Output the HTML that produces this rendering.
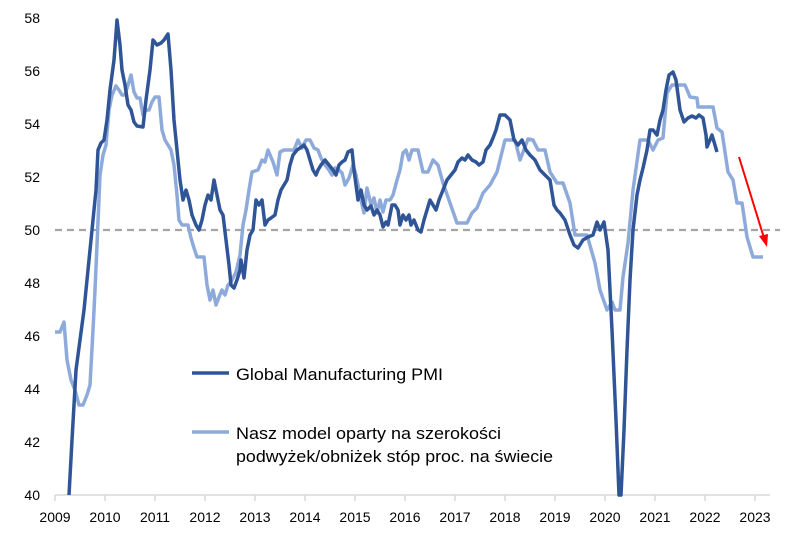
<!DOCTYPE html>
<html><head><meta charset="utf-8"><style>
body{margin:0;background:#fff;}
svg text{font-family:"Liberation Sans",sans-serif;fill:#000;}
</style></head><body>
<svg width="800" height="548" viewBox="0 0 800 548" xmlns="http://www.w3.org/2000/svg">
<rect width="800" height="548" fill="#fff"/>
<g font-size="14" text-anchor="end">
<text x="40" y="23">58</text><text x="40" y="76">56</text><text x="40" y="129">54</text>
<text x="40" y="182">52</text><text x="40" y="235">50</text><text x="40" y="288">48</text>
<text x="40" y="341">46</text><text x="40" y="394">44</text><text x="40" y="447">42</text>
<text x="40" y="500">40</text>
</g>
<line x1="55" y1="495" x2="770" y2="495" stroke="#d9d9d9" stroke-width="1.5"/>
<g stroke="#d9d9d9" stroke-width="1.5">
<line x1="55" y1="495" x2="55" y2="501"/><line x1="105" y1="495" x2="105" y2="501"/><line x1="155" y1="495" x2="155" y2="501"/><line x1="205" y1="495" x2="205" y2="501"/><line x1="255" y1="495" x2="255" y2="501"/><line x1="305" y1="495" x2="305" y2="501"/><line x1="355" y1="495" x2="355" y2="501"/><line x1="405" y1="495" x2="405" y2="501"/><line x1="455" y1="495" x2="455" y2="501"/><line x1="505" y1="495" x2="505" y2="501"/><line x1="555" y1="495" x2="555" y2="501"/><line x1="605" y1="495" x2="605" y2="501"/><line x1="655" y1="495" x2="655" y2="501"/><line x1="705" y1="495" x2="705" y2="501"/><line x1="755" y1="495" x2="755" y2="501"/>
</g>
<g font-size="14" text-anchor="middle">
<text x="55" y="522">2009</text><text x="105" y="522">2010</text><text x="155" y="522">2011</text><text x="205" y="522">2012</text><text x="255" y="522">2013</text><text x="305" y="522">2014</text><text x="355" y="522">2015</text><text x="405" y="522">2016</text><text x="455" y="522">2017</text><text x="505" y="522">2018</text><text x="555" y="522">2019</text><text x="605" y="522">2020</text><text x="655" y="522">2021</text><text x="705" y="522">2022</text><text x="755" y="522">2023</text>
</g>
<line x1="55" y1="230" x2="780" y2="230" stroke="#a5a5a5" stroke-width="2.2" stroke-dasharray="7,5"/>
<polyline fill="none" stroke="#8eaadb" stroke-width="3.5" stroke-linejoin="round" points="55,332 60,332 64,322 67,360 71,380 75,390 79,405 83,405 87,395 90,385 93,330 95,290 97,245 100,175 103,155 106,145 109,110 112,95 116,86 119,90 122,95 125,95 128,85 131,75 134,92 137,98 140,98 143,115 146,110 149,110 152,102 155,97 159,97 162,130 165,140 168,145 171,150 174,165 177,195 179,220 182,225 188,225 191,238 194,248 197,257 204,257 207,285 210,300 213,290 216,305 219,297 222,290 225,295 228,285 231,282 236,272 240,255 243,225 246,210 249,190 252,172 258,170 262,160 265,162 268,150 273,162 277,175 280,152 284,150 294,150 298,140 302,148 306,140 310,140 314,148 318,150 321,158 325,165 329,170 332,175 335,168 339,170 342,173 345,185 349,178 353,165 356,175 358,185 361,200 364,213 367,188 371,205 374,198 377,213 380,200 383,212 386,200 390,200 393,195 397,180 400,170 403,153 406,150 409,160 412,150 418,150 423,172 428,172 433,160 438,165 443,183 450,203 457,223 467,223 472,213 477,208 483,193 490,185 497,172 505,140 515,140 520,160 528,139 533,140 538,150 545,150 550,172 557,183 563,183 570,203 575,235 587,235 595,263 600,290 607,310 612,302 615,310 620,310 623,277 628,243 633,190 640,140 648,140 653,150 658,140 663,138 667,93 672,85 685,85 690,97 697,98 698,107 713,107 717,128 722,132 728,172 733,180 737,203 742,203 747,237 753,257 763,257"/>
<polyline fill="none" stroke="#2f5597" stroke-width="3.5" stroke-linejoin="round" points="69,495 72,440 76,370 80,340 84,310 88,270 92,230 96,190 98,150 101,143 104,140 107,120 110,90 114,60 117,20 120,45 122,70 125,85 128,105 131,110 134,122 137,126 143,127 146,100 150,70 153,40 157,45 161,43 164,40 168,34 171,70 174,120 177,150 180,180 183,200 186,190 189,200 192,215 196,225 199,230 202,220 205,205 208,195 211,200 214,180 217,195 220,210 223,215 226,240 229,265 231,285 234,288 237,280 240,270 241,260 244,278 247,250 250,235 253,230 256,200 259,205 262,200 265,225 268,220 271,218 275,215 278,200 281,190 284,185 287,180 290,165 293,155 297,150 300,148 304,145 307,150 310,160 313,170 316,175 318,170 321,165 325,160 329,165 333,170 336,175 339,165 342,162 345,160 348,152 352,150 354,170 358,200 361,190 364,205 367,210 371,206 374,215 377,210 380,215 383,227 386,222 388,225 392,205 395,205 398,210 400,225 403,215 406,220 409,215 411,225 414,220 418,230 421,232 424,220 427,210 430,200 433,205 436,210 439,200 443,190 447,180 451,175 455,170 458,162 462,158 465,160 468,155 472,160 476,162 479,165 483,162 486,150 490,145 493,138 496,130 500,115 505,115 510,120 514,140 518,145 522,140 526,150 530,155 535,160 540,170 545,175 550,180 554,205 557,210 560,213 565,220 570,235 574,245 578,248 583,240 588,237 593,235 597,222 600,230 604,222 608,250 612,330 616,420 619,495 621,495 624,430 627,350 630,280 633,230 637,195 640,180 643,168 647,150 650,130 653,130 657,135 660,120 663,110 666,90 669,75 673,72 676,80 680,110 684,122 688,118 692,116 696,118 699,115 703,118 706,135 707,147 712,135 717,152"/>
<line x1="739" y1="157" x2="764" y2="238" stroke="#ff0000" stroke-width="2"/>
<polygon points="767,247 759,236 768,234" fill="#ff0000"/>
<line x1="192" y1="373" x2="229" y2="373" stroke="#2f5597" stroke-width="3.5"/>
<text x="236" y="380" font-size="17" textLength="207" lengthAdjust="spacingAndGlyphs">Global Manufacturing PMI</text>
<line x1="192" y1="432" x2="229" y2="432" stroke="#8eaadb" stroke-width="3.5"/>
<text x="236" y="439" font-size="17" textLength="265" lengthAdjust="spacingAndGlyphs">Nasz model oparty na szerokości</text>
<text x="236" y="462" font-size="17" textLength="317" lengthAdjust="spacingAndGlyphs">podwyżek/obniżek stóp proc. na świecie</text>
</svg>
</body></html>
